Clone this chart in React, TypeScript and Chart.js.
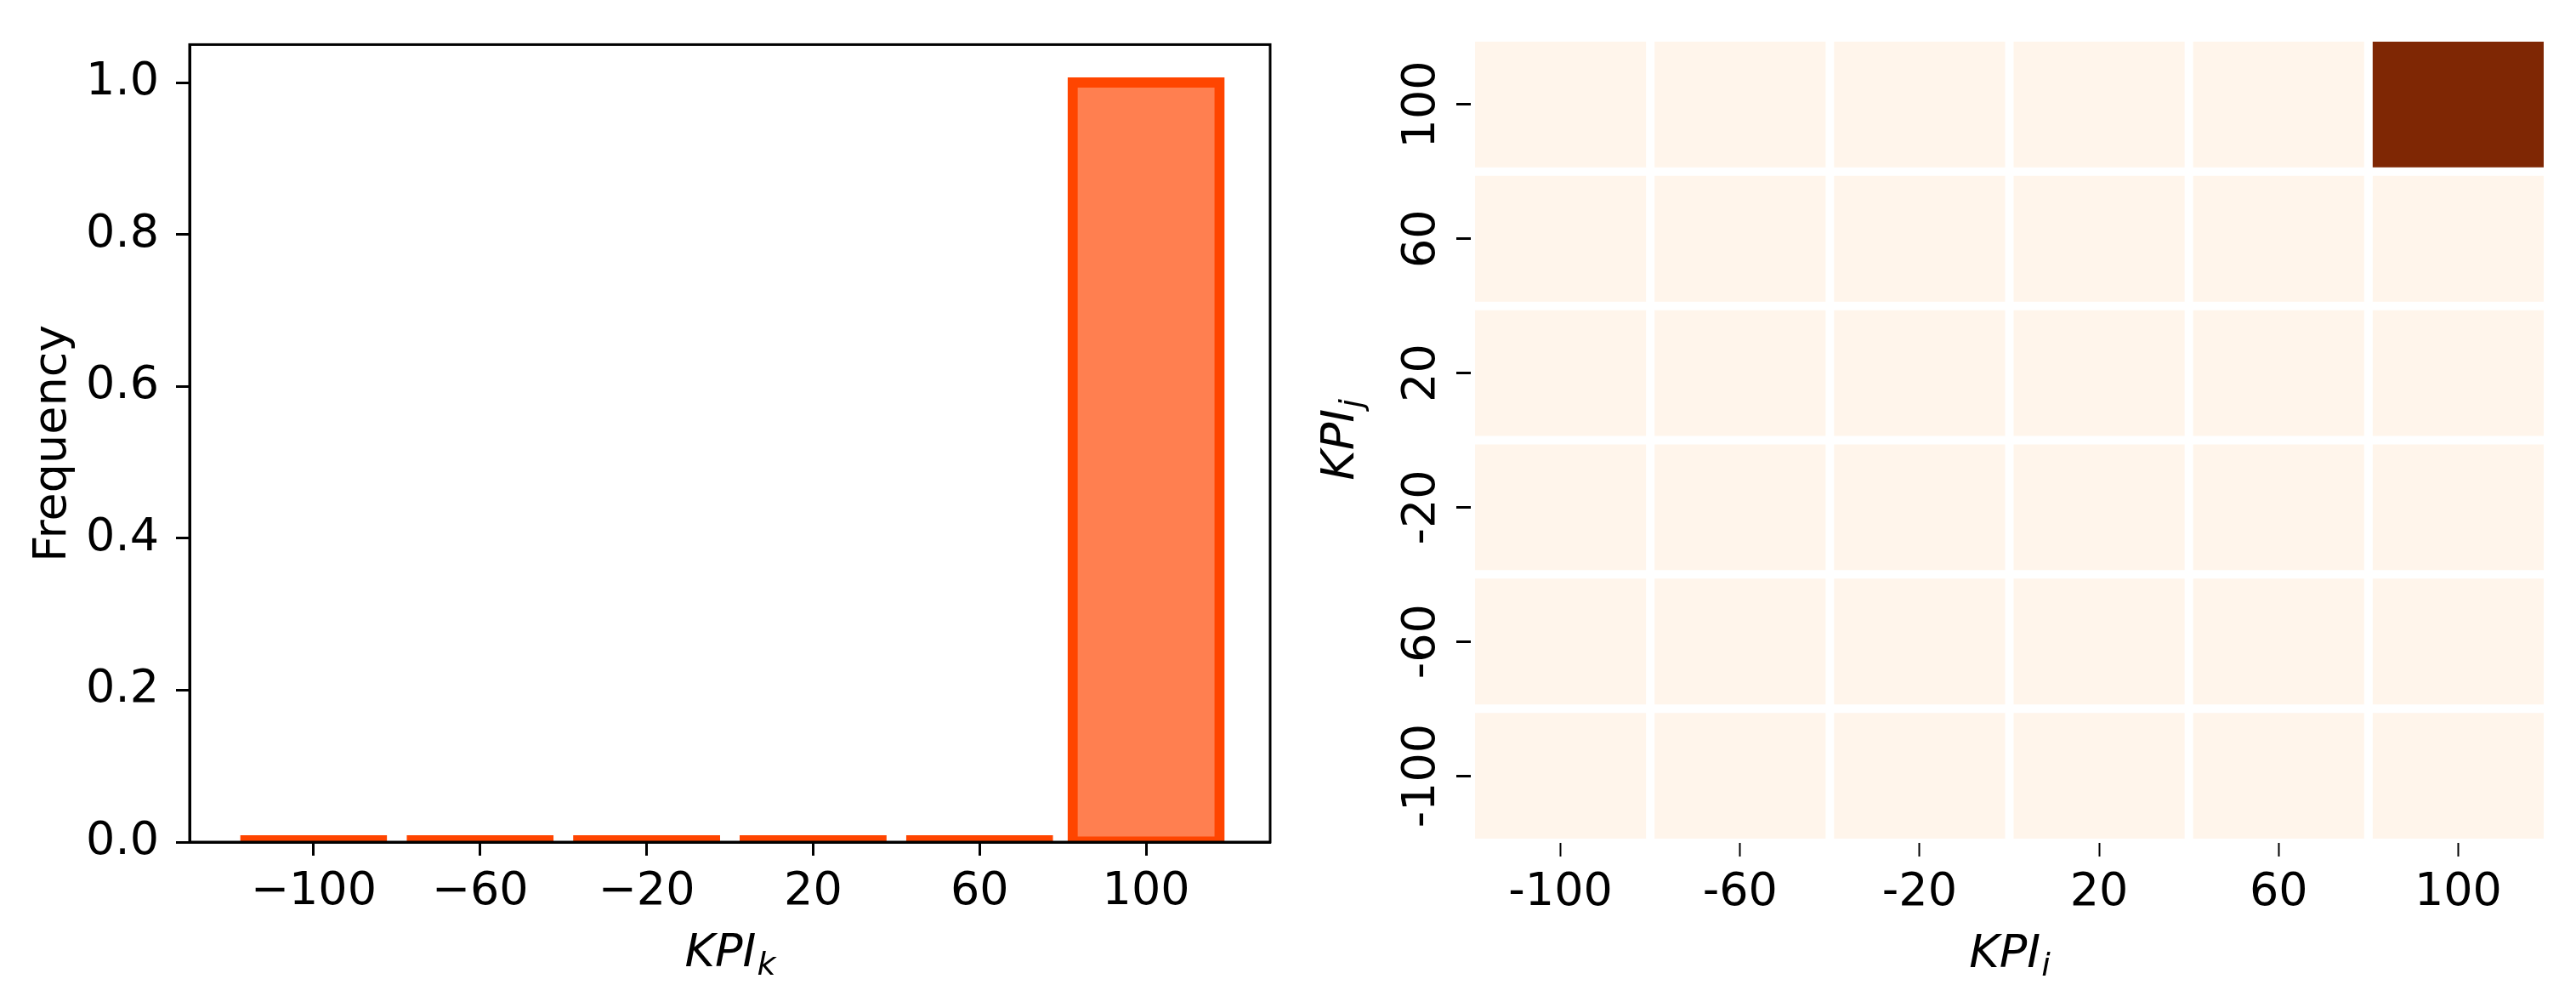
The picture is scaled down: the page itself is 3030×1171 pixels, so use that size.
import React, { useEffect, useRef } from "react";
import { Chart, registerables } from "chart.js";

Chart.register(...registerables);

// ---------- data: left histogram ----------
const kpiK = [-100, -60, -20, 20, 60, 100];
const frequency = [0, 0, 0, 0, 0, 1.0];
const freqTicks = [0, 0.2, 0.4, 0.6, 0.8, 1.0];

// ---------- data: right heatmap ----------
const kpiI = ["-100", "-60", "-20", "20", "60", "100"];
const kpiJ = [100, 60, 20, -20, -60, -100]; // rows, top to bottom
const rowJ100 = [0, 0, 0, 0, 0, 1];
const rowJ60 = [0, 0, 0, 0, 0, 0];
const rowJ20 = [0, 0, 0, 0, 0, 0];
const rowJm20 = [0, 0, 0, 0, 0, 0];
const rowJm60 = [0, 0, 0, 0, 0, 0];
const rowJm100 = [0, 0, 0, 0, 0, 0];
const heatRows = [rowJ100, rowJ60, rowJ20, rowJm20, rowJm60, rowJm100];
const binHalf = 20;

const orangesStops = ["#fff5eb", "#fee6ce", "#fdd0a2", "#fdae6b", "#fd8d3c", "#f16913", "#d94801", "#a63603", "#7f2704"];

const FONT = '"DejaVu Sans", "Liberation Sans", sans-serif';
const FS = 54;

function hexToRgb(h: string) {
  const n = parseInt(h.slice(1), 16);
  return [(n >> 16) & 255, (n >> 8) & 255, n & 255];
}
function oranges(t: number) {
  const tt = Math.max(0, Math.min(1, t)) * (orangesStops.length - 1);
  const i = Math.min(Math.floor(tt), orangesStops.length - 2);
  const f = tt - i;
  const a = hexToRgb(orangesStops[i]);
  const b = hexToRgb(orangesStops[i + 1]);
  const c = a.map((v, k) => Math.round(v + (b[k] - v) * f));
  return `rgb(${c[0]},${c[1]},${c[2]})`;
}

function drawMath(ctx: CanvasRenderingContext2D, x: number, y: number, main: string, sub: string, rotate: boolean, size: number) {
  ctx.save();
  ctx.translate(x, y);
  if (rotate) ctx.rotate(-Math.PI / 2);
  ctx.fillStyle = "#000";
  ctx.textBaseline = "alphabetic";
  ctx.textAlign = "left";
  const mainFont = `italic ${size}px ${FONT}`;
  const subFont = `italic ${Math.round(size * 0.7)}px ${FONT}`;
  ctx.font = mainFont;
  const w1 = ctx.measureText(main).width;
  ctx.font = subFont;
  const w2 = ctx.measureText(sub).width;
  const start = -(w1 + w2) / 2;
  ctx.font = mainFont;
  ctx.fillText(main, start, 0);
  ctx.font = subFont;
  ctx.fillText(sub, start + w1 + 1, 10);
  ctx.restore();
}

export default function App() {
  const leftRef = useRef<HTMLCanvasElement>(null);
  const rightRef = useRef<HTMLCanvasElement>(null);

  useEffect(() => {
    const leftPlugin = {
      id: "leftDecor",
      afterDraw(chart: any) {
        const { ctx, chartArea } = chart;
        ctx.save();
        ctx.strokeStyle = "#000";
        ctx.lineWidth = 3;
        ctx.strokeRect(chartArea.left, chartArea.top, chartArea.right - chartArea.left, chartArea.bottom - chartArea.top);
        ctx.save();
        ctx.translate(chartArea.left - 146, (chartArea.top + chartArea.bottom) / 2);
        ctx.rotate(-Math.PI / 2);
        ctx.font = `${FS}px ${FONT}`;
        ctx.fillStyle = "#000";
        ctx.textAlign = "center";
        ctx.textBaseline = "alphabetic";
        ctx.fillText("Frequency", 0, 0);
        ctx.restore();
        ctx.restore();
        drawMath(ctx, (chartArea.left + chartArea.right) / 2, chartArea.bottom + 146, "KPI", "k", false, FS);
      },
    };

    const left = new Chart(leftRef.current!, {
      type: "bar",
      data: {
        datasets: [
          {
            data: kpiK.map((k, i) => ({ x: k, y: frequency[i] })),
            backgroundColor: "#ff7f50",
            borderColor: "#ff4500",
            borderWidth: 12,
            inflateAmount: (c: any) => (c.raw && c.raw.y > 0 ? 6 : 0),
            borderSkipped: false,
            barPercentage: 0.883,
            categoryPercentage: 1,
            minBarLength: 8,
          },
        ],
      },
      options: {
        animation: false,
        responsive: false,
        devicePixelRatio: 1,
        layout: { padding: { top: 43, right: 26, left: 0, bottom: 0 } },
        plugins: { legend: { display: false }, tooltip: { enabled: false } },
        scales: {
          x: {
            type: "linear",
            min: -129.8,
            max: 129.8,
            offset: false,
            afterBuildTicks: (axis: any) => {
              axis.ticks = kpiK.map((v) => ({ value: v }));
            },
            afterFit: (s: any) => {
              s.height = 181;
            },
            grid: { offset: false, drawOnChartArea: false, drawTicks: true, tickLength: 16, tickWidth: 3, tickColor: "#000" },
            border: { display: true, color: "#000", width: 3 },
            ticks: {
              autoSkip: false,
              maxRotation: 0,
              color: "#000",
              padding: 11,
              font: { family: FONT, size: FS },
              callback: (v: any) => (Number(v) < 0 ? "\u2212" + Math.abs(Number(v)) : String(v)),
            },
          },
          y: {
            type: "linear",
            min: 0,
            max: 1.05,
            afterBuildTicks: (axis: any) => {
              axis.ticks = freqTicks.map((v) => ({ value: v }));
            },
            afterFit: (s: any) => {
              s.width = 223;
            },
            grid: { drawOnChartArea: false, drawTicks: true, tickLength: 16, tickWidth: 3, tickColor: "#000" },
            border: { display: true, color: "#000", width: 3 },
            ticks: {
              color: "#000",
              padding: 20,
              font: { family: FONT, size: FS },
              callback: (v: any) => Number(v).toFixed(1),
            },
          },
        },
      },
      plugins: [leftPlugin],
    } as any);

    const rightPlugin = {
      id: "rightDecor",
      afterDraw(chart: any) {
        const { ctx, chartArea } = chart;
        const ys = chart.scales.y;
        ctx.save();
        ctx.font = `${FS}px ${FONT}`;
        ctx.fillStyle = "#000";
        ctx.textAlign = "center";
        ctx.textBaseline = "alphabetic";
        kpiJ.forEach((j) => {
          const py = ys.getPixelForValue(j);
          ctx.save();
          ctx.translate(chartArea.left - 43, py);
          ctx.rotate(-Math.PI / 2);
          ctx.fillText(String(j), 0, 0);
          ctx.restore();
        });
        ctx.restore();
        drawMath(ctx, (chartArea.left + chartArea.right) / 2, chartArea.bottom + 146, "KPI", "i", false, FS);
        drawMath(ctx, chartArea.left - 138, (chartArea.top + chartArea.bottom) / 2, "KPI", "j", true, FS);
      },
    };

    const maxVal = Math.max(...heatRows.map((r) => Math.max(...r))) || 1;

    const right = new Chart(rightRef.current!, {
      type: "bar",
      data: {
        labels: kpiI,
        datasets: heatRows.map((row, r) => ({
          label: String(kpiJ[r]),
          data: row.map(() => [kpiJ[r] - binHalf, kpiJ[r] + binHalf]),
          backgroundColor: row.map((v) => oranges(v / maxVal)),
          borderColor: "#ffffff",
          borderWidth: 5,
          borderSkipped: false,
          inflateAmount: 0,
          grouped: false,
          barPercentage: 1,
          categoryPercentage: 1,
        })),
      },
      options: {
        animation: false,
        responsive: false,
        devicePixelRatio: 1,
        layout: { padding: { top: 44, right: 33, left: 0, bottom: 0 } },
        plugins: { legend: { display: false }, tooltip: { enabled: false } },
        scales: {
          x: {
            type: "category",
            offset: true,
            afterFit: (s: any) => {
              s.height = 180;
            },
            grid: { offset: false, drawOnChartArea: false, drawTicks: true, tickLength: 16, tickWidth: 2, tickColor: "#000" },
            border: { display: false },
            ticks: {
              autoSkip: false,
              maxRotation: 0,
              color: "#000",
              padding: 11,
              font: { family: FONT, size: FS },
            },
          },
          y: {
            type: "linear",
            min: -120,
            max: 120,
            afterBuildTicks: (axis: any) => {
              axis.ticks = kpiJ.map((v) => ({ value: v }));
            },
            afterFit: (s: any) => {
              s.width = 210;
            },
            grid: { drawOnChartArea: false, drawTicks: true, tickLength: 17, tickWidth: 3, tickColor: "#000" },
            border: { display: false },
            ticks: { display: false },
          },
        },
      },
      plugins: [rightPlugin],
    } as any);

    return () => {
      left.destroy();
      right.destroy();
    };
  }, []);

  return (
    <div style={{ position: "absolute", left: 0, top: 0, width: 3030, height: 1171, background: "#fff" }}>
      <canvas ref={leftRef} width={1520} height={1171} style={{ position: "absolute", left: 0, top: 0, width: 1520, height: 1171 }} />
      <canvas ref={rightRef} width={1510} height={1171} style={{ position: "absolute", left: 1520, top: 0, width: 1510, height: 1171 }} />
    </div>
  );
}
